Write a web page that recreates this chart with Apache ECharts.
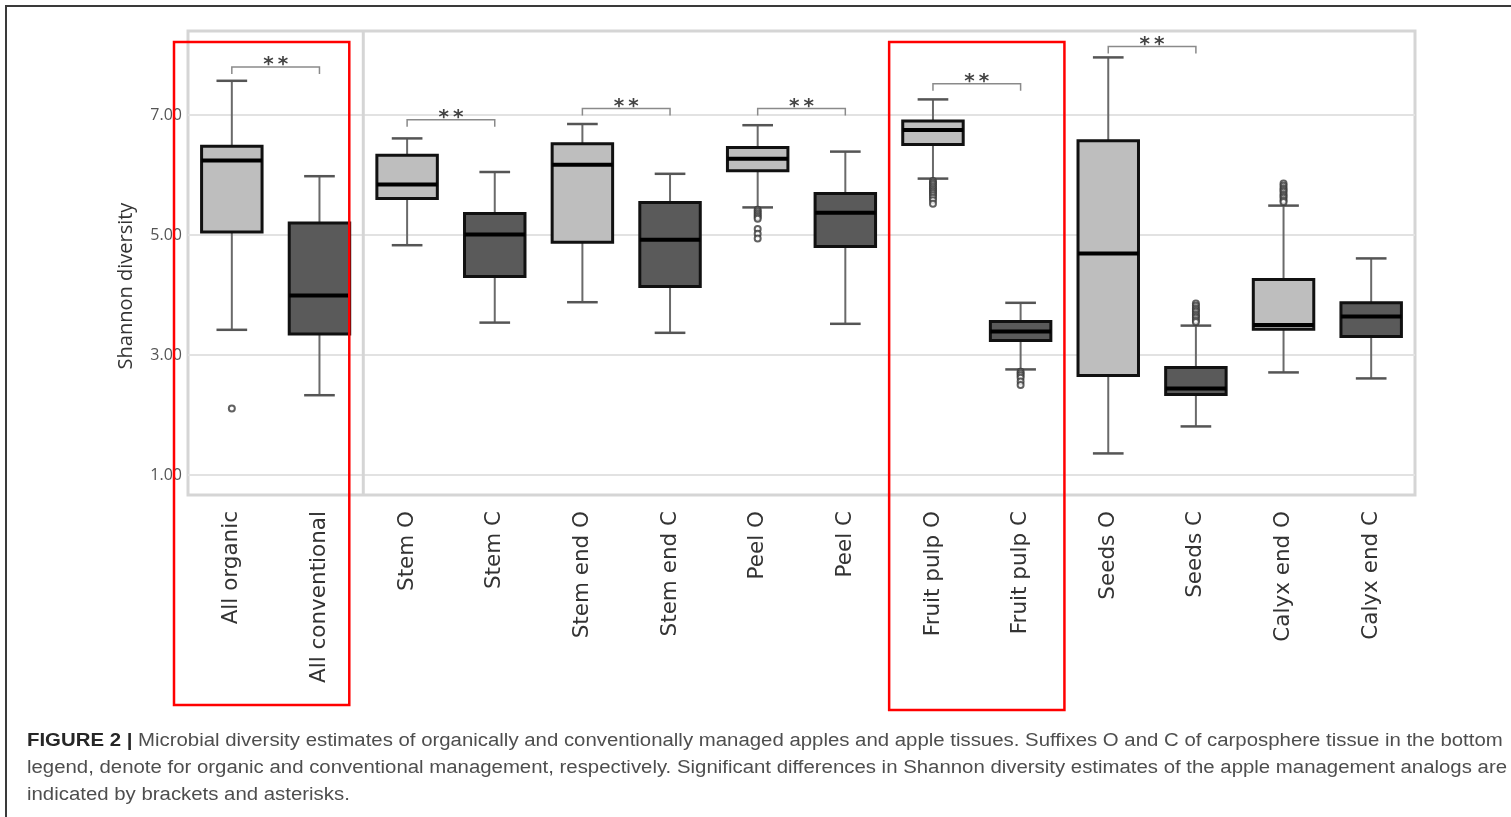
<!DOCTYPE html>
<html><head><meta charset="utf-8">
<script src="https://cdn.jsdelivr.net/npm/echarts@6/dist/echarts.min.js"></script>
<style>html,body{margin:0;padding:0;background:#fff;}#chart{width:1511px;height:817px;}</style>
</head><body><div id="chart"></div>
<script>
// ---- data ----
const categories = ['All organic','All conventional','Stem O','Stem C','Stem end O','Stem end C','Peel O','Peel C','Fruit pulp O','Fruit pulp C','Seeds O','Seeds C','Calyx end O','Calyx end C'];
const management = ['O','C','O','C','O','C','O','C','O','C','O','C','O','C'];
const lowerWhisker = [3.42, 2.33, 4.83, 3.54, 3.88, 3.37, 5.46, 3.52, 5.94, 2.76, 1.36, 1.81, 2.71, 2.61];
const q1           = [5.05, 3.35, 5.61, 4.31, 4.88, 4.14, 6.07, 4.81, 6.51, 3.24, 2.66, 2.34, 3.43, 3.31];
const median       = [6.24, 3.99, 5.84, 5.01, 6.17, 4.92, 6.27, 5.37, 6.75, 3.39, 4.69, 2.44, 3.50, 3.64];
const q3           = [6.48, 5.20, 6.33, 5.36, 6.52, 5.54, 6.46, 5.69, 6.90, 3.56, 6.57, 2.79, 4.26, 3.87];
const upperWhisker = [7.57, 5.98, 6.61, 6.05, 6.85, 6.02, 6.83, 6.39, 7.26, 3.87, 7.96, 3.49, 5.49, 4.61];
const outliers = [
  [2.11], [], [], [], [], [],
  [5.42, 5.39, 5.36, 5.33, 5.30, 5.27, 5.10, 5.02, 4.94],
  [],
  [5.90, 5.87, 5.84, 5.81, 5.78, 5.75, 5.72, 5.69, 5.66, 5.62, 5.58, 5.52],
  [2.72, 2.69, 2.66, 2.62, 2.56, 2.50],
  [],
  [3.86, 3.82, 3.78, 3.75, 3.72, 3.68, 3.65, 3.62, 3.58, 3.55],
  [5.86, 5.82, 5.78, 5.75, 5.72, 5.68, 5.65, 5.62, 5.58, 5.55],
  []
];
const brackets = [[0, 1, 7.80], [2, 3, 6.92], [4, 5, 7.11], [6, 7, 7.11], [8, 9, 7.52], [10, 11, 8.14]];
const bracketLabel = '*\u2009*';
const yTicks = [1, 3, 5, 7];
const yMin = 0.667, yMax = 8.4;
const yName = 'Shannon diversity';
const separatorBefore = 2;
const captionBold = 'FIGURE 2 |';
const captionLines = [
  ' Microbial diversity estimates of organically and conventionally managed apples and apple tissues. Suffixes O and C of carposphere tissue in the bottom',
  'legend, denote for organic and conventional management, respectively. Significant differences in Shannon diversity estimates of the apple management analogs are',
  'indicated by brackets and asterisks.'
];

// ---- build ----
const boxData = categories.map((c, i) => [i, lowerWhisker[i], q1[i], median[i], q3[i], upperWhisker[i]]);
const outlierData = [];
outliers.forEach((arr, i) => arr.forEach(v => outlierData.push([i, v])));

const chart = echarts.init(document.getElementById('chart'), null, {renderer: 'canvas'});

const option = {
  animation: false,
  backgroundColor: '#fff',
  grid: {left: 188, right: 96, top: 31, bottom: 322, show: true, borderColor: '#d5d5d5', borderWidth: 3, backgroundColor: '#fff'},
  xAxis: {
    type: 'category', data: categories, boundaryGap: true,
    axisLine: {show: false}, axisTick: {show: false},
    axisLabel: {rotate: 90, interval: 0, margin: 16, fontFamily: 'DejaVu Sans', fontSize: 21.5, color: '#333'},
    splitLine: {show: false}
  },
  yAxis: {
    type: 'value', min: yMin, max: yMax,
    axisLine: {show: false},
    axisTick: {show: false, customValues: yTicks},
    axisLabel: {customValues: yTicks, formatter: v => v.toFixed(2), margin: 6, fontFamily: 'Open Sans', fontSize: 16, color: '#555'},
    splitLine: {show: true, lineStyle: {color: '#e2e2e2', width: 2}}
  },
  series: [
    {
      type: 'custom', name: 'box', data: boxData,
      encode: {x: 0, y: [1, 2, 3, 4, 5]},
      renderItem: function (params, api) {
        const i = api.value(0);
        const pl = api.coord([i, api.value(1)]);
        const p1 = api.coord([i, api.value(2)]);
        const pm = api.coord([i, api.value(3)]);
        const p3 = api.coord([i, api.value(4)]);
        const pu = api.coord([i, api.value(5)]);
        const band = api.size([1, 0])[0];
        const bw = band * 0.69, cw = band * 0.35;
        const x = pl[0];
        const fill = management[params.dataIndex] === 'O' ? '#bebebe' : '#5a5a5a';
        const ws = {stroke: '#6a6a6a', lineWidth: 2};
        return {type: 'group', children: [
          {type: 'line', shape: {x1: x, y1: pu[1], x2: x, y2: p3[1]}, style: ws},
          {type: 'line', shape: {x1: x, y1: p1[1], x2: x, y2: pl[1]}, style: ws},
          {type: 'line', shape: {x1: x - cw / 2, y1: pu[1], x2: x + cw / 2, y2: pu[1]}, style: {stroke: '#555', lineWidth: 2.5}},
          {type: 'line', shape: {x1: x - cw / 2, y1: pl[1], x2: x + cw / 2, y2: pl[1]}, style: {stroke: '#555', lineWidth: 2.5}},
          {type: 'rect', shape: {x: x - bw / 2, y: p3[1], width: bw, height: p1[1] - p3[1]}, style: {fill: fill, stroke: '#111', lineWidth: 3}},
          {type: 'line', shape: {x1: x - bw / 2, y1: pm[1], x2: x + bw / 2, y2: pm[1]}, style: {stroke: '#000', lineWidth: 4}}
        ]};
      }
    },
    {
      type: 'scatter', name: 'outliers', data: outlierData,
      symbol: 'emptyCircle', symbolSize: 6,
      itemStyle: {color: '#3a3a3a', borderColor: '#3a3a3a', borderWidth: 1.4}
    },
    {
      type: 'custom', name: 'brackets', data: brackets,
      encode: {x: [0, 1], y: 2},
      renderItem: function (params, api) {
        const a = api.coord([api.value(0), api.value(2)]);
        const b = api.coord([api.value(1), api.value(2)]);
        const t = 7;
        return {type: 'group', children: [
          {type: 'polyline', shape: {points: [[a[0], a[1] + t], [a[0], a[1]], [b[0], b[1]], [b[0], b[1] + t]]},
           style: {stroke: '#8a8a8a', lineWidth: 1.5, fill: null}},
          {type: 'text', x: (a[0] + b[0]) / 2, y: a[1] - 2,
           style: {text: bracketLabel, fontFamily: 'DejaVu Sans', fontWeight: 'bold', fontSize: 20, fill: '#444', align: 'center', verticalAlign: 'middle'}}
        ]};
      }
    }
  ]
};
chart.setOption(option);

// ---- annotations (figure frame, separator, axis title, red highlight boxes, caption) ----
const c0 = chart.convertToPixel({xAxisIndex: 0}, 0);
const c1 = chart.convertToPixel({xAxisIndex: 0}, 1);
const band = c1 - c0;
function edge(i) { return chart.convertToPixel({xAxisIndex: 0}, i) - band / 2; }
const yTop = chart.convertToPixel({yAxisIndex: 0}, yMax);
const yBot = chart.convertToPixel({yAxisIndex: 0}, yMin);
const highlight = [
  {first: 0, last: 1, shift: -14, top: 42, bottom: 705},
  {first: 8, last: 9, shift: 0, top: 42, bottom: 710}
];
const ctx = document.createElement('canvas').getContext('2d');
ctx.font = '18px "Liberation Sans"';
const wLine2 = ctx.measureText(captionLines[1]).width;
const sx = 1480 / wLine2;
const capLineY = [741, 768, 795];

const sepX = edge(separatorBefore);
const graphics = [
  {type: 'rect', silent: true, z: 200, shape: {x: 6, y: 6, width: 1600, height: 900}, style: {fill: 'transparent', stroke: '#3a3a3a', lineWidth: 2}},
  {type: 'line', silent: true, z: 1, shape: {x1: sepX, y1: yTop, x2: sepX, y2: yBot}, style: {stroke: '#d5d5d5', lineWidth: 3}},
  {type: 'text', silent: true, z: 100, x: 126, y: 286, rotation: Math.PI / 2,
   style: {text: yName, fontFamily: 'Open Sans', fontSize: 20, fill: '#333', align: 'center', verticalAlign: 'middle'}}
];
highlight.forEach(h => {
  const x0 = edge(h.first) + h.shift;
  const x1 = edge(h.last + 1) + h.shift;
  graphics.push({type: 'rect', silent: true, z: 150, shape: {x: x0, y: h.top, width: x1 - x0, height: h.bottom - h.top},
    style: {fill: 'transparent', stroke: '#ff0000', lineWidth: 2.5}});
});
captionLines.forEach((ln, k) => {
  const txt = k === 0 ? '{b|' + captionBold + '}' + ln : ln;
  graphics.push({type: 'text', silent: true, z: 100, x: 27, y: capLineY[k], scaleX: sx,
    style: {text: txt, fontFamily: 'Liberation Sans', fontSize: 18, fill: '#4e4e4e', verticalAlign: 'middle', align: 'left',
      rich: {b: {fontFamily: 'Liberation Sans', fontSize: 18, fontWeight: 'bold', fill: '#262626'}}}});
});
chart.setOption({graphic: graphics});
</script>
</body></html>
